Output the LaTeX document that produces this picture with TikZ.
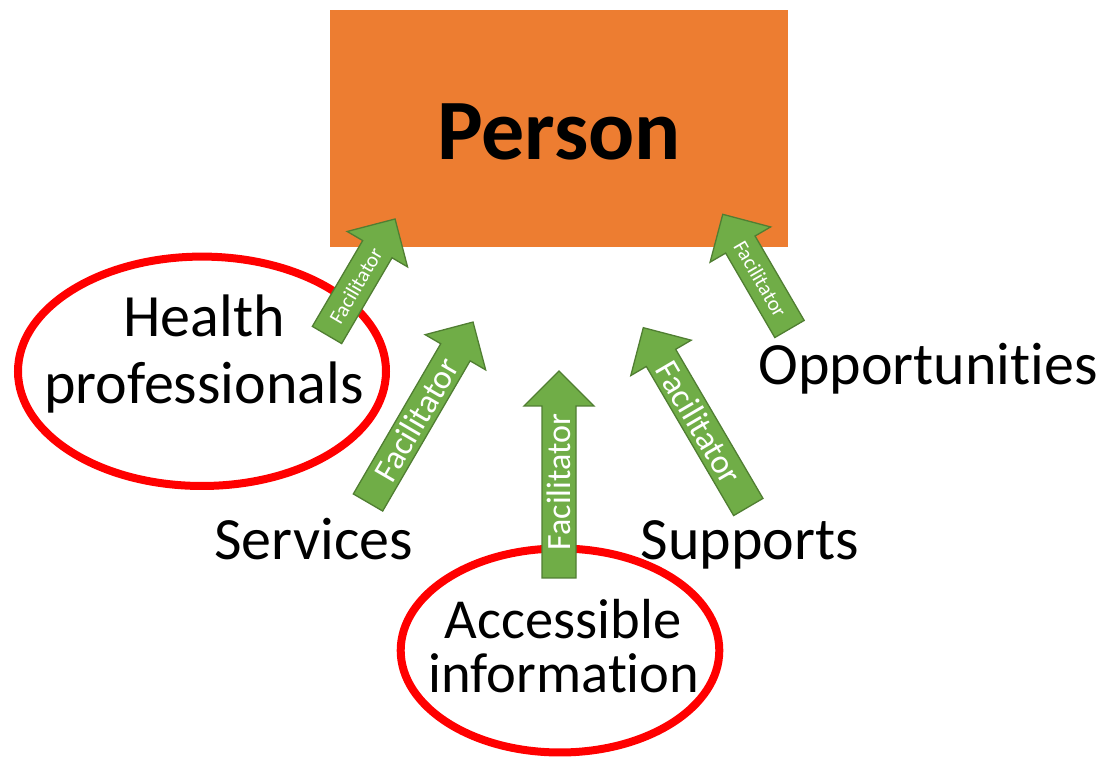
\documentclass[tikz,border=0pt]{standalone}
\usepackage{fontspec}
\setmainfont{Carlito}[RawFeature={-liga;-dlig}]
\definecolor{personorange}{HTML}{ED7D31}
\definecolor{facgreen}{HTML}{70AD47}
\definecolor{facedge}{HTML}{507E32}
\definecolor{ringred}{HTML}{FF0000}
\tikzset{
  personbox/.style={fill=personorange, draw=none},
  ring/.style={draw=ringred, line width=8pt},
  arrowbody/.style={fill=facgreen, draw=facedge, line width=1.3pt, line join=miter},
  factext/.style={text=white, inner sep=0pt},
  lbl/.style={inner sep=0pt, font=\fontsize{60}{66.7}\selectfont, align=center},
}
\newcommand\facarrow[7]{%
  \begin{scope}[shift={#2}, rotate=#3]
    \draw[arrowbody] (0,-17) -- ({#4-35},-17) -- ({#4-35},-35) -- (#4,0)
      -- ({#4-35},35) -- ({#4-35},17) -- (0,17) -- cycle;
    \node[factext, font=\fontsize{#7}{#7}\selectfont, rotate=#6] (#1) at (#5,0) {Facilitator};
  \end{scope}}
\begin{document}
\begin{tikzpicture}[x=1pt, y=1pt]
\useasboundingbox (0,0) rectangle (1111,760);
% central box
\path[personbox] (330,512.5) rectangle (788,750);
\node[inner sep=0pt, anchor=base, font=\fontsize{86}{86}\selectfont\bfseries] (person) at (559,600) {Person};
% rings
\draw[ring] (202,388.7) ellipse [x radius=184, y radius=114.7];
\draw[ring] (560,109.5) ellipse [x radius=159.3, y radius=102];
% labels
\node[lbl, anchor=base] (health1) at (204,423.3) {Health};
\node[lbl, anchor=base] (health2) at (204,356.7) {professionals};
\node[lbl, anchor=base, font=\fontsize{56.5}{56.5}\selectfont] (access1) at (563,121.7) {Accessible};
\node[lbl, anchor=base, font=\fontsize{56.5}{56.5}\selectfont] (access2) at (564,67.3) {information};
\node[lbl, anchor=base] (services) at (313.5,200) {Services};
\node[lbl, anchor=base] (supports) at (750,200) {Supports};
\node[lbl, anchor=base] (opps) at (928,375) {Opportunities};
% facilitator arrows
\facarrow{f1}{(327,425)}{59.6}{134.5}{57}{59.6}{21}
\facarrow{f2}{(368,257.5)}{59.8}{208.8}{96}{59.8}{34}
\facarrow{f3}{(559,182)}{90}{207}{96}{90}{34}
\facarrow{f4}{(748.3,253)}{120.35}{207.8}{98}{-59.65}{34}
\facarrow{f5}{(789.5,431)}{120.2}{132.7}{58}{-59.8}{21}
\end{tikzpicture}
\end{document}
